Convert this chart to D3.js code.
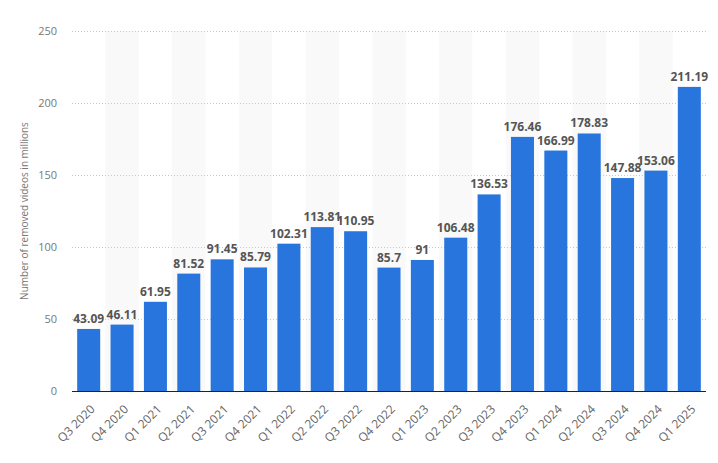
<!DOCTYPE html>
<html><head><meta charset="utf-8">
<script src="https://cdn.jsdelivr.net/npm/d3@7"></script>
<style>body{margin:0;background:#fff}svg{display:block}</style>
</head><body>
<svg id="c" width="718" height="463"></svg>
<script>
const categories = ["Q3 2020","Q4 2020","Q1 2021","Q2 2021","Q3 2021","Q4 2021","Q1 2022","Q2 2022","Q3 2022","Q4 2022","Q1 2023","Q2 2023","Q3 2023","Q4 2023","Q1 2024","Q2 2024","Q3 2024","Q4 2024","Q1 2025"];
const values = [43.09,46.11,61.95,81.52,91.45,85.79,102.31,113.81,110.95,85.7,91,106.48,136.53,176.46,166.99,178.83,147.88,153.06,211.19];
const yTicks = [0,50,100,150,200,250];
const yTitle = "Number of removed videos in millions";

const svg = d3.select("#c");
const x = d3.scaleBand().domain(categories).range([72,706]).paddingInner(0.31).paddingOuter(0.155);
const xb = d3.scaleBand().domain(categories).range([72,706]);
const y = d3.scaleLinear().domain([0,250]).range([391,31]);

// alternating bands
svg.append("g").selectAll("rect").data(categories.filter((d,i)=>i%2===1)).join("rect")
  .attr("x",d=>xb(d)).attr("width",xb.bandwidth()).attr("y",31).attr("height",360).attr("fill","#f9f9f9");

// grid
svg.append("g").selectAll("line").data(yTicks.filter(d=>d>0)).join("line")
  .attr("x1",72).attr("x2",706).attr("y1",d=>y(d)+0.5).attr("y2",d=>y(d)+0.5)
  .attr("stroke","#c8c8c8").attr("stroke-dasharray","1,2");

// y axis labels
const ya = d3.axisLeft(y).tickValues(yTicks).tickSize(0).tickPadding(0);
const yg = svg.append("g").attr("transform","translate(57,0)").call(ya);
yg.select(".domain").remove();
yg.selectAll("text").attr("fill","#777").style("font-family","'Open Sans',sans-serif").style("font-size","11px");

svg.append("text").attr("transform","translate(28,211) rotate(-90)").attr("text-anchor","middle")
  .attr("fill","#777").style("font-family","'Open Sans',sans-serif").style("font-size","10px").text(yTitle);

// bars
svg.append("g").selectAll("rect").data(values).join("rect")
  .attr("x",(d,i)=>x(categories[i])).attr("width",x.bandwidth())
  .attr("y",d=>y(d)).attr("height",d=>y(0)-y(d)).attr("fill","#2876dd");

// value labels
svg.append("g").selectAll("text").data(values).join("text")
  .attr("x",(d,i)=>x(categories[i])+x.bandwidth()/2).attr("y",d=>y(d)-6)
  .attr("text-anchor","middle").attr("fill","#555")
  .style("font-family","'Open Sans',sans-serif").style("font-size","12px").style("font-weight","bold")
  .text(d=>String(d));

// baseline
svg.append("line").attr("x1",72).attr("x2",706).attr("y1",391.5).attr("y2",391.5).attr("stroke","#222").attr("stroke-width",1.2);

// x labels
const xa = d3.axisBottom(x).tickSize(0).tickPadding(0);
const xg = svg.append("g").attr("transform","translate(0,391)").call(xa);
xg.select(".domain").remove();
xg.selectAll("text").attr("transform","translate(1,13) rotate(-45)").attr("dy","0.7em").attr("dx","0")
  .attr("text-anchor","end").attr("fill","#666")
  .style("font-family","'Open Sans',sans-serif").style("font-size","12px");
</script>
</body></html>
